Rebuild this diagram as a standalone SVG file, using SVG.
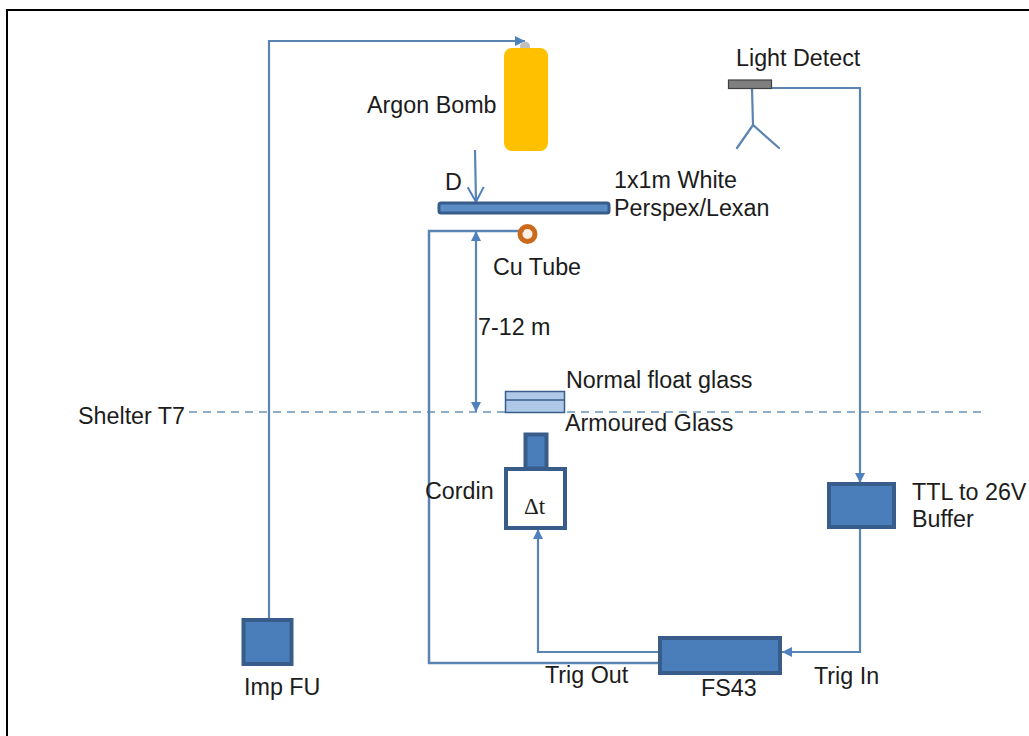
<svg xmlns="http://www.w3.org/2000/svg" width="1029" height="736" viewBox="0 0 1029 736">
<style>
text{font-family:"Liberation Sans",Arial,sans-serif;font-size:23.3px;fill:#1c1c1c}
.c{fill:none;stroke:#5a85b3;stroke-width:2.2}
.b{fill:#4a7ebb;stroke:#385d8a;stroke-width:4}
</style>
<defs>
<marker id="a" markerUnits="userSpaceOnUse" markerWidth="12" markerHeight="12" refX="10" refY="5" orient="auto-start-reverse"><path d="M0 0L10 5L0 10Z" fill="#4f81bd"/></marker>
<marker id="o" markerUnits="userSpaceOnUse" markerWidth="20" markerHeight="20" refX="16" refY="9" orient="auto"><path d="M1 1L16 9L1 17" fill="none" stroke="#4f81bd" stroke-width="2"/></marker>
</defs>
<rect width="1029" height="736" fill="#fff"/>
<path d="M7 736V10H1029" fill="none" stroke="#000" stroke-width="2"/>
<g id="connectors">
<path class="c" d="M189 412H985" stroke-dasharray="8 6" style="stroke:#6a93b8;stroke-width:1.5"/>
<path class="c" d="M269 619V41H525" marker-end="url(#a)"/>
<path class="c" d="M475 150L476 202" marker-end="url(#o)"/>
<path class="c" d="M659 663H429V231H524" style="stroke-width:2.5"/>
<path class="c" d="M476 231V412" marker-start="url(#a)" marker-end="url(#a)"/>
<path class="c" d="M659 652H538V529" marker-end="url(#a)"/>
<path class="c" d="M860 528V652H782" marker-end="url(#a)"/>
<path class="c" d="M772 88H860V483" marker-end="url(#a)"/>
<path class="c" d="M752 88L753 125M737 148L753 125L779 148" stroke-linecap="round"/>
</g>
<g id="argon-bomb">
<circle cx="525" cy="46.500" r="5" fill="#bfbfbf"/>
<rect x="504" y="48" width="44" height="103" rx="8" fill="#ffc000"/>
<text x="367" y="113">Argon Bomb</text>
</g>
<g id="perspex">
<rect x="439" y="203" width="170" height="10" rx="2" fill="#5b8cc4" stroke="#385d8a" stroke-width="3"/>
<text x="445" y="190">D</text>
<text x="614" y="188">1x1m White</text>
<text x="614" y="216">Perspex/Lexan</text>
</g>
<g id="cu-tube">
<circle cx="527.500" cy="234" r="7.500" fill="#f4d9c4" fill-opacity="0.4" stroke="#cc6a1c" stroke-width="5"/>
<text x="493" y="275">Cu Tube</text>
</g>
<text x="478" y="335">7-12 m</text>
<text x="78" y="424">Shelter T7</text>
<g id="glass">
<rect x="505.500" y="391.500" width="59" height="21" fill="#b0c8e8" stroke="#385d8a" stroke-width="1.500"/>
<path d="M505.500 400H564.500" stroke="#385d8a" stroke-width="1.500"/>
<text x="566" y="388">Normal float glass</text>
<text x="565" y="431">Armoured Glass</text>
</g>
<g id="cordin">
<rect x="525.500" y="434.500" width="21" height="34" class="b"/>
<rect x="506" y="469" width="59" height="59" fill="#fff" stroke="#385d8a" stroke-width="4"/>
<text x="524" y="514" style="font-family:'Liberation Serif',serif;font-size:23px">Δt</text>
<text x="425" y="499">Cordin</text>
</g>
<g id="light-detect">
<rect x="728.500" y="80" width="43" height="8.500" fill="#7f7f7f" stroke="#404040" stroke-width="1.200"/>
<text x="736" y="66">Light Detect</text>
</g>
<g id="buffer">
<rect x="829" y="484" width="65" height="43" class="b"/>
<text x="912" y="500">TTL to 26V</text>
<text x="912" y="527">Buffer</text>
</g>
<g id="fs43">
<rect x="660" y="638" width="120" height="35" class="b"/>
<text x="701" y="696">FS43</text>
</g>
<text x="545" y="683">Trig Out</text>
<text x="814" y="684">Trig In</text>
<g id="imp-fu">
<rect x="243.500" y="620" width="48" height="44" class="b"/>
<text x="244" y="695">Imp FU</text>
</g>
</svg>
